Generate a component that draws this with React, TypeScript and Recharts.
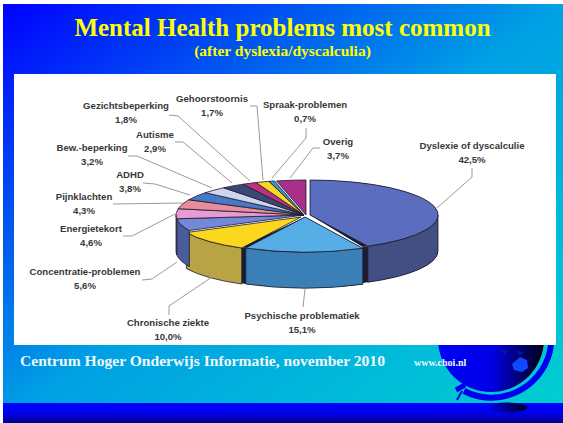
import React from "react";
import { PieChart, Pie } from "recharts";

const categories = [
  "Dyslexie of dyscalculie",
  "Psychische problematiek",
  "Chronische ziekte",
  "Concentratie-problemen",
  "Energietekort",
  "Pijnklachten",
  "ADHD",
  "Bew.-beperking",
  "Autisme",
  "Gezichtsbeperking",
  "Gehoorstoornis",
  "Spraak-problemen",
  "Overig",
];
const percentages = [42.5, 15.1, 10.0, 5.6, 4.6, 4.3, 3.8, 3.2, 2.9, 1.8, 1.7, 0.7, 3.7];
const percentLabels = [
  "42,5%", "15,1%", "10,0%", "5,6%", "4,6%", "4,3%", "3,8%",
  "3,2%", "2,9%", "1,8%", "1,7%", "0,7%", "3,7%",
];

// slice styling, same order as categories
const topColors = [
  "#5a6dbf", "#57aee6", "#fbd71e", "#7488d8", "#e89ad2", "#e88d9e", "#4a78c8",
  "#ccd4ee", "#3a4878", "#c03080", "#f8d820", "#4090c8", "#a83088",
];
const sideColors = [
  "#434f82", "#3a7fb5", "#b8a444", "#4a5c9c", "#b070a0", "#b07080", "#38588f",
  "#9aa0b8", "#2a3458", "#902460", "#b8a018", "#306c98", "#80246a",
];
const explode = [
  [5, 0], [0, 2], [-4, 2], [-1, 0], [-1, 0], [-1, 0], [-1, 0],
  [-1, 0], [-1, 0], [-1, 0], [-1, 0], [-1, 0], [1, 0],
];

// label centres and leader lines
const labelAt = [
  [472, 149], [302, 319], [168, 326], [85, 275], [91, 232], [84, 200], [130, 178],
  [92, 151], [155, 138], [126, 109], [212, 102], [305, 108], [338, 145],
];
const leaders = [
  "472,168 472,177 437,208",
  "303,307 305,289",
  "169,315 169,306 212,277",
  "142,280 152,279 177,262",
  "123,236 132,236 177,213",
  "113,204 183,203",
  "143,183 155,184 190,195",
  "128,156 137,156 212,188",
  "175,142 183,142 232,183",
  "169,115 178,116 250,181",
  "250,106 257,106 263,180",
  "306,128 306,138 272,178",
  "320,148 313,148 290,178",
];

const tableData = categories.map((name, i) => ({ name, value: percentages[i] }));

const RY = 35;
const DEPTH = 36;
const GAP_COLOR = "#1c1c34";

function PieSlice(props: any) {
  const { cx, cy, outerRadius: rx, startAngle, endAngle } = props;
  const i = categories.indexOf(props.name);
  const ox = cx + explode[i][0];
  const oy = cy + explode[i][1];
  const pt = (a: number, down = 0) => {
    const r = (a * Math.PI) / 180;
    return `${ox + rx * Math.cos(r)} ${oy - RY * Math.sin(r) + down}`;
  };
  const wall = (hi: number, lo: number) => {
    const large = hi - lo > 180 ? 1 : 0;
    return `M${pt(hi)} A${rx} ${RY} 0 ${large} 1 ${pt(lo)} L${pt(lo, DEPTH)} A${rx} ${RY} 0 ${large} 0 ${pt(hi, DEPTH)} Z`;
  };
  const wedge = (from: number, to: number) => {
    const large = from - to > 180 ? 1 : 0;
    return `M${ox} ${oy} L${pt(from)} A${rx} ${RY} 0 ${large} 1 ${pt(to)} Z`;
  };
  const hi = Math.min(startAngle, 0);
  const lo = Math.max(endAngle, -180);
  return (
    <g>
      {/* dark cut face showing through the gap to the next slice */}
      {i < 2 && <path d={wall(hi, lo - 2.5)} fill={GAP_COLOR} />}
      {i < 2 && <path d={wedge(startAngle, endAngle - 2.5)} fill={GAP_COLOR} />}
      {hi > lo && <path d={wall(hi, lo)} fill={sideColors[i]} stroke="#1c1c28" strokeWidth={0.8} />}
      <path d={wedge(startAngle, endAngle)} fill={topColors[i]} stroke="#1c1c28" strokeWidth={0.8} strokeLinejoin="round" />
    </g>
  );
}

function renderLabel(props: any) {
  const i = props.index;
  return (
    <text
      x={labelAt[i][0]}
      textAnchor="middle"
      fontFamily="'Liberation Sans', Arial, sans-serif"
      fontWeight="bold"
      fontSize={9.6}
      fill="#383838"
    >
      <tspan x={labelAt[i][0]} y={labelAt[i][1]}>{categories[i]}</tspan>
      <tspan x={labelAt[i][0]} y={labelAt[i][1] + 14}>{percentLabels[i]}</tspan>
    </text>
  );
}

function renderLeader(props: any) {
  return <polyline points={leaders[props.index]} fill="none" stroke="#9a9a9a" strokeWidth={1} />;
}

function Globe() {
  return (
    <svg width={563} height={423} style={{ position: "absolute", left: 0, top: 0 }}>
      <defs>
        <linearGradient id="globeFill" x1="0" x2="1" y1="0" y2="0">
          <stop offset="0%" stopColor="#0000f8" />
          <stop offset="50%" stopColor="#0000e8" />
          <stop offset="100%" stopColor="#000014" />
        </linearGradient>
      </defs>
      <circle cx={491} cy={339} r={53} fill="url(#globeFill)" />
      <path d="M512 364 L520 357 L527 360 L528 368 L522 372 L514 370 Z" fill="#1048ff" />
      <path d="M500 349 L508 350 L505 355 Z" fill="#0018a0" />
      <path d="M515 350 L524 353 L519 355 Z" fill="#0018a0" />
      <path d="M464 391 A60 60 0 0 0 551 345" fill="none" stroke="#0000f0" strokeWidth={6} />
      <line x1={456} y1={390} x2={465} y2={385} stroke="#0000f0" strokeWidth={5} />
      <line x1={457} y1={400} x2={462} y2={391} stroke="#0000f0" strokeWidth={2} />
    </svg>
  );
}

export default function App() {
  return (
    <div style={{ position: "relative", width: 563, height: 423, overflow: "hidden", background: "#fff" }}>
      <style>{"body{margin:0}"}</style>
      <div
        style={{
          position: "absolute",
          left: 3,
          top: 4,
          width: 560,
          height: 419,
          background: "linear-gradient(to bottom right, #0000ff 0%, #00a0e4 50%, #00d0d0 100%)",
        }}
      />
      <Globe />
      <div
        style={{
          position: "absolute",
          left: 3,
          top: 403,
          width: 560,
          height: 20,
          background: "linear-gradient(to bottom, #0000ff 0%, #0000f0 45%, #000090 100%)",
        }}
      />
      <svg width={563} height={423} style={{ position: "absolute", left: 0, top: 0 }}>
        <defs>
          <linearGradient id="shadowFill" x1="0" x2="1" y1="0" y2="0">
            <stop offset="0%" stopColor="#0000f0" />
            <stop offset="100%" stopColor="#000020" />
          </linearGradient>
        </defs>
        <ellipse cx={507} cy={407.5} rx={20} ry={5} fill="url(#shadowFill)" />
      </svg>
      <div style={{ position: "absolute", left: 14, top: 74, width: 542, height: 271, background: "#fff" }} />

      <div
        style={{
          position: "absolute",
          left: 0,
          width: 565,
          top: 14,
          textAlign: "center",
          color: "#ffff00",
          fontFamily: "'Liberation Serif', serif",
          fontWeight: "bold",
          fontSize: 25,
          lineHeight: "28px",
        }}
      >
        Mental Health problems most common
      </div>
      <div
        style={{
          position: "absolute",
          left: 0,
          width: 565,
          top: 43,
          textAlign: "center",
          color: "#ffff00",
          fontFamily: "'Liberation Serif', serif",
          fontWeight: "bold",
          fontSize: 15.5,
          lineHeight: "16px",
        }}
      >
        (after dyslexia/dyscalculia)
      </div>

      <div style={{ position: "absolute", left: 0, top: 0 }}>
        <PieChart width={563} height={423} margin={{ top: 0, right: 0, bottom: 0, left: 0 }}>
          <Pie
            data={tableData}
            dataKey="value"
            nameKey="name"
            cx={305}
            cy={215}
            innerRadius={0}
            outerRadius={128}
            startAngle={90}
            endAngle={-270}
            isAnimationActive={false}
            shape={PieSlice}
            label={renderLabel}
            labelLine={renderLeader}
          />
        </PieChart>
      </div>

      <div
        style={{
          position: "absolute",
          left: 20,
          top: 352,
          color: "#eef8ff",
          fontFamily: "'Liberation Serif', serif",
          fontWeight: "bold",
          fontSize: 15.6,
          lineHeight: "18px",
          whiteSpace: "nowrap",
        }}
      >
        Centrum Hoger Onderwijs Informatie, november 2010
      </div>
      <div
        style={{
          position: "absolute",
          left: 414,
          top: 357,
          color: "#eef8ff",
          fontFamily: "'Liberation Serif', serif",
          fontWeight: "bold",
          fontSize: 10,
          lineHeight: "12px",
          whiteSpace: "nowrap",
        }}
      >
        www.choi.nl
      </div>
    </div>
  );
}
